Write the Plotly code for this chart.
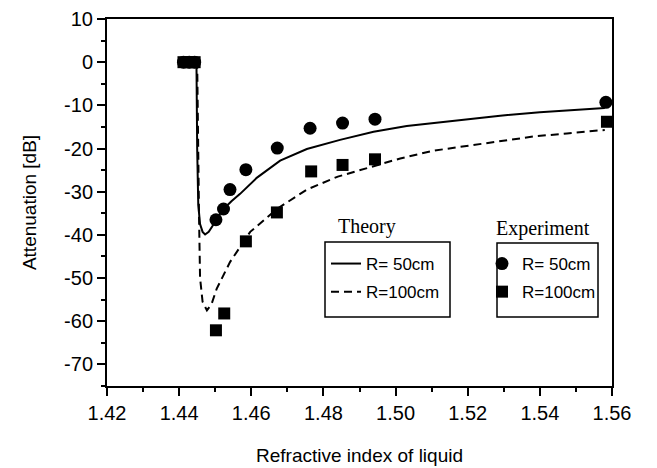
import plotly.graph_objects as go

# Theory curves
theory50_x = [1.441, 1.4448, 1.4450, 1.4453, 1.4458, 1.4465, 1.4472, 1.4482, 1.4492, 1.4502, 1.4523,
              1.4545, 1.4569, 1.4615, 1.4680, 1.4754, 1.4846, 1.4939, 1.5031, 1.5105, 1.5200,
              1.5290, 1.5400, 1.5500, 1.5580]
theory50_y = [0, 0, -20, -33, -37.5, -39.3, -39.9, -39.3, -38.0, -36.5, -34.0,
              -32.2, -30.5, -26.8, -22.8, -20.1, -18.0, -16.1, -14.8, -14.1, -13.2,
              -12.4, -11.6, -11.0, -10.6]

theory100_x = [1.441, 1.4450, 1.4455, 1.4458, 1.4465, 1.4477, 1.4490, 1.4504, 1.4541, 1.4597, 1.4671,
               1.4754, 1.4840, 1.4939, 1.5013, 1.5105, 1.5198, 1.5290, 1.5383, 1.5475, 1.5580]
theory100_y = [0, 0, -35, -50, -55.5, -57.5, -56.0, -52.5, -46.3, -39.3, -34.0,
               -29.5, -26.5, -24.0, -22.3, -20.5, -19.4, -18.2, -17.2, -16.5, -15.7]

# Experiment points
exp50_x = [1.4412, 1.4428, 1.4443, 1.4502, 1.4523, 1.4541, 1.4585, 1.4672, 1.4763, 1.4853, 1.4943, 1.5583]
exp50_y = [0, 0, 0, -36.5, -34.0, -29.5, -24.9, -19.9, -15.3, -14.1, -13.2, -9.3]

exp100_x = [1.4412, 1.4428, 1.4443, 1.4502, 1.4525, 1.4585, 1.4671, 1.4766, 1.4853, 1.4943, 1.5586]
exp100_y = [0, 0, 0, -62.1, -58.2, -41.5, -34.8, -25.3, -23.8, -22.5, -13.8]

x_ticks = [1.42, 1.44, 1.46, 1.48, 1.50, 1.52, 1.54, 1.56]
x_ticklabels = ["1.42", "1.44", "1.46", "1.48", "1.50", "1.52", "1.54", "1.56"]
y_ticks = [10, 0, -10, -20, -30, -40, -50, -60, -70]
y_ticklabels = ["10", "0", "-10", "-20", "-30", "-40", "-50", "-60", "-70"]

W, H = 657, 468
L, R, T, B = 107, 45, 19, 82
pw, ph = W - L - R, H - T - B


def px(xp):
    return (xp - L) / pw


def py(yp):
    return (H - B - yp) / ph


SANS = "Liberation Sans, Arial, sans-serif"
SERIF = "Liberation Serif, Times New Roman, serif"

fig = go.Figure()
fig.add_trace(go.Scatter(x=theory50_x, y=theory50_y, mode="lines", name="R= 50cm",
                         line=dict(color="black", width=2), legend="legend", legendgroup="a"))
fig.add_trace(go.Scatter(x=theory100_x, y=theory100_y, mode="lines", name="R=100cm",
                         line=dict(color="black", width=2, dash="8px,5px"), legend="legend", legendgroup="b"))
fig.add_trace(go.Scatter(x=exp50_x, y=exp50_y, mode="markers", name="R= 50cm",
                         marker=dict(symbol="circle", size=13, color="black"), legend="legend2", legendgroup="c"))
fig.add_trace(go.Scatter(x=exp100_x, y=exp100_y, mode="markers", name="R=100cm",
                         marker=dict(symbol="square", size=12, color="black"), legend="legend2", legendgroup="d"))

axis_common = dict(showline=True, linecolor="black", linewidth=2, mirror=True,
                   ticks="outside", tickwidth=2, ticklen=8, tickcolor="black",
                   showgrid=False, zeroline=False, automargin=False,
                   tickfont=dict(family=SANS, size=20, color="black"))

fig.update_xaxes(range=[1.42, 1.56], tickvals=x_ticks, ticktext=x_ticklabels,
                 minor=dict(dtick=0.01, ticks="outside", ticklen=4, tickwidth=2, tickcolor="black"),
                 title=dict(text="Refractive index of liquid", font=dict(family=SANS, size=19, color="black"),
                            standoff=26),
                 **axis_common)
fig.update_yaxes(range=[-75, 10], tickvals=y_ticks, ticktext=y_ticklabels,
                 minor=dict(dtick=5, ticks="outside", ticklen=4, tickwidth=2, tickcolor="black"),
                 title=dict(text="Attenuation [dB]", font=dict(family=SANS, size=19, color="black"),
                            standoff=22),
                 **axis_common)

legend_common = dict(bgcolor="rgba(0,0,0,0)", borderwidth=0, tracegroupgap=3,
                     font=dict(family=SANS, size=17, color="black"),
                     xanchor="left", yanchor="top")

fig.update_layout(
    width=W, height=H,
    margin=dict(l=L, r=R, t=T, b=B),
    paper_bgcolor="white", plot_bgcolor="white",
    showlegend=True,
    legend=dict(x=px(326), y=py(246), **legend_common),
    legend2=dict(x=px(482), y=py(246), **legend_common),
    shapes=[
        dict(type="rect", xref="paper", yref="paper", x0=px(325), x1=px(450), y0=py(317), y1=py(242),
             line=dict(color="black", width=1.5)),
        dict(type="rect", xref="paper", yref="paper", x0=px(497), x1=px(598), y0=py(317), y1=py(243),
             line=dict(color="black", width=1.5)),
    ],
    annotations=[
        dict(text="Theory", xref="paper", yref="paper", x=px(367), y=py(226), showarrow=False,
             font=dict(family=SERIF, size=20, color="black"), xanchor="center", yanchor="middle"),
        dict(text="Experiment", xref="paper", yref="paper", x=px(543), y=py(228), showarrow=False,
             font=dict(family=SERIF, size=20, color="black"), xanchor="center", yanchor="middle"),
    ],
)

fig.write_html("out.html", config={"displayModeBar": False},
               post_script="document.body.style.margin='0px';document.body.style.overflow='hidden';")
